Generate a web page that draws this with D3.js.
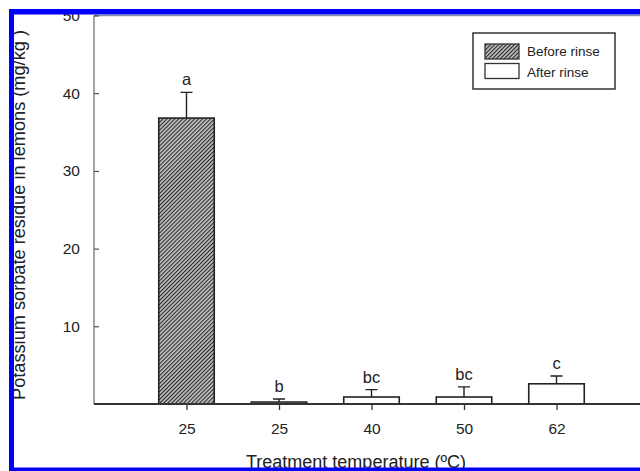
<!DOCTYPE html>
<html>
<head>
<meta charset="utf-8">
<script src="https://cdn.jsdelivr.net/npm/d3@7"></script>
<style>
  body { margin: 0; background: #fff; }
  svg { display: block; font-family: "Liberation Sans", Arial, sans-serif; }
</style>
</head>
<body>
<div id="chart"></div>
<script>
const width = 640;
const height = 471;

// data
const tempLabels = ["25", "25", "40", "50", "62"];
const groups = ["Before rinse", "After rinse", "After rinse", "After rinse", "After rinse"];
const residue = [36.8, 0.25, 0.9, 0.9, 2.6];
const errors = [3.3, 0.4, 0.95, 1.3, 1.0];
const letters = ["a", "b", "bc", "bc", "c"];
const yTicks = [10, 20, 30, 40, 50];
const legendItems = ["Before rinse", "After rinse"];

const data = tempLabels.map((t, i) => ({
  idx: i + 1, label: t, group: groups[i], value: residue[i], err: errors[i], letter: letters[i]
}));

const svg = d3.select("#chart")
  .append("svg")
  .attr("width", width)
  .attr("height", height);

const defs = svg.append("defs");
const pat = defs.append("pattern")
  .attr("id", "hatch")
  .attr("patternUnits", "userSpaceOnUse")
  .attr("width", 2.8)
  .attr("height", 2.8)
  .attr("patternTransform", "rotate(45)");
pat.append("rect").attr("width", 2.8).attr("height", 2.8).attr("fill", "#c0c0c0");
pat.append("line")
  .attr("x1", 0).attr("y1", 0).attr("x2", 0).attr("y2", 2.8)
  .attr("stroke", "#262626").attr("stroke-width", 2.1);

const x = d3.scaleLinear()
  .domain([0, 6])
  .range([94, 649]);

const y = d3.scaleLinear()
  .domain([0, 50])
  .range([404, 15.5]);

const barW = x(0.6) - x(0);
const fillFor = g => g === "Before rinse" ? "url(#hatch)" : "#fff";

// plot frame top line (grey)
svg.append("line")
  .attr("x1", x(0)).attr("x2", width)
  .attr("y1", y(50)).attr("y2", y(50))
  .attr("stroke", "#8a8aa8").attr("stroke-width", 1.5);

// y axis: ticks point inward
const yAxis = svg.append("g")
  .attr("transform", `translate(${x(0)},0)`)
  .call(d3.axisRight(y).tickValues(yTicks).tickSize(5).tickFormat(d3.format("d")));
yAxis.select(".domain").remove();
yAxis.selectAll(".tick line").attr("stroke", "#333");
yAxis.selectAll(".tick text")
  .attr("x", -14)
  .attr("text-anchor", "end")
  .attr("font-size", 15.5)
  .attr("fill", "#222");
svg.append("line")
  .attr("x1", x(0)).attr("x2", x(0))
  .attr("y1", y(0)).attr("y2", y(50))
  .attr("stroke", "#666").attr("stroke-width", 1.2);

// bars
svg.selectAll("rect.bar")
  .data(data)
  .enter()
  .append("rect")
  .attr("class", "bar")
  .attr("x", d => x(d.idx) - barW / 2)
  .attr("y", d => y(d.value))
  .attr("width", barW)
  .attr("height", d => y(0) - y(d.value))
  .attr("fill", d => fillFor(d.group))
  .attr("stroke", "#222")
  .attr("stroke-width", 1.6);

// error bars (upper only)
const capW = 12;
svg.selectAll("path.err")
  .data(data)
  .enter()
  .append("path")
  .attr("class", "err")
  .attr("d", d => {
    const cx = x(d.idx), y0 = y(d.value), y1 = y(d.value + d.err);
    return `M${cx},${y0}V${y1}M${cx - capW / 2},${y1}H${cx + capW / 2}`;
  })
  .attr("fill", "none")
  .attr("stroke", "#222")
  .attr("stroke-width", 1.4);

// significance letters
svg.selectAll("text.sig")
  .data(data)
  .enter()
  .append("text")
  .attr("class", "sig")
  .attr("x", d => x(d.idx))
  .attr("y", d => y(d.value + d.err) - 7)
  .attr("text-anchor", "middle")
  .attr("font-size", 16.5)
  .attr("fill", "#222")
  .text(d => d.letter);

// x axis
const xAxis = svg.append("g")
  .attr("transform", `translate(0,${y(0)})`)
  .call(d3.axisBottom(x).tickValues(data.map(d => d.idx)).tickSize(6)
    .tickFormat(i => tempLabels[i - 1]));
xAxis.select(".domain").remove();
xAxis.selectAll(".tick line").attr("stroke", "#333").attr("stroke-width", 1.3);
xAxis.selectAll(".tick text")
  .attr("y", 19)
  .attr("font-size", 15.5)
  .attr("fill", "#222");
svg.append("line")
  .attr("x1", x(0)).attr("x2", width)
  .attr("y1", y(0)).attr("y2", y(0))
  .attr("stroke", "#333").attr("stroke-width", 2);

// axis titles
svg.append("text")
  .attr("transform", `translate(25,400) rotate(-90)`)
  .attr("text-anchor", "start")
  .attr("font-size", 18.2)
  .attr("fill", "#222")
  .text("Potassium sorbate residue in lemons (mg/kg )");

svg.append("text")
  .attr("x", 356)
  .attr("y", 468)
  .attr("text-anchor", "middle")
  .attr("font-size", 18)
  .attr("fill", "#222")
  .text("Treatment temperature (ºC)");

// legend
const legend = svg.append("g");
legend.append("rect")
  .attr("x", 473).attr("y", 33)
  .attr("width", 142).attr("height", 56)
  .attr("fill", "#fff")
  .attr("stroke", "#333")
  .attr("stroke-width", 1.5);
legendItems.forEach((name, i) => {
  legend.append("rect")
    .attr("x", 485).attr("y", 44 + i * 19.5)
    .attr("width", 34).attr("height", 15)
    .attr("fill", fillFor(name))
    .attr("stroke", "#333")
    .attr("stroke-width", 1.3);
  legend.append("text")
    .attr("x", 527).attr("y", 56 + i * 20.5)
    .attr("font-size", 13.5)
    .attr("fill", "#222")
    .text(name);
});

// blue frame (top, left, bottom)
svg.append("rect").attr("x", 9).attr("y", 9).attr("width", width - 9).attr("height", 5.5).attr("fill", "#0000ff");
svg.append("rect").attr("x", 9).attr("y", 9).attr("width", 5).attr("height", height - 9).attr("fill", "#0000ff");
svg.append("rect").attr("x", 9).attr("y", 467.5).attr("width", width - 9).attr("height", 3.5).attr("fill", "#0000ff");
</script>
</body>
</html>
